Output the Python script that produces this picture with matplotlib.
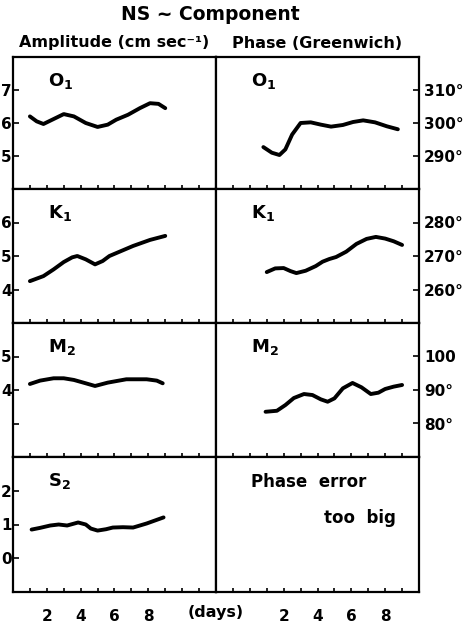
import matplotlib.pyplot as plt

plt.rcParams['font.family'] = 'DejaVu Sans'
plt.rcParams['font.weight'] = 'bold'

# amplitude curves (cm/sec) vs day
o1_amp_day = [1.0, 1.4, 1.8, 2.4, 3.0, 3.6, 4.3, 5.0, 5.6, 6.1, 6.8, 7.5, 8.1, 8.6, 9.0]
o1_amp = [6.2, 6.05, 5.97, 6.12, 6.27, 6.2, 6.0, 5.88, 5.95, 6.1, 6.25, 6.45, 6.6, 6.58, 6.45]
k1_amp_day = [1.0, 1.8, 2.4, 3.0, 3.5, 3.8, 4.3, 4.85, 5.3, 5.7, 6.4, 7.1, 8.1, 9.0]
k1_amp = [4.25, 4.4, 4.6, 4.82, 4.96, 5.0, 4.9, 4.75, 4.85, 5.0, 5.15, 5.3, 5.48, 5.6]
m2_amp_day = [1.0, 1.6, 2.4, 3.0, 3.6, 4.3, 4.85, 5.6, 6.7, 7.9, 8.5, 8.85]
m2_amp = [4.18, 4.28, 4.35, 4.35, 4.3, 4.2, 4.12, 4.22, 4.32, 4.32, 4.28, 4.2]
s2_amp_day = [1.1, 1.6, 2.2, 2.7, 3.2, 3.85, 4.3, 4.6, 5.0, 5.5, 5.9, 6.5, 7.1, 7.9, 8.4, 8.9]
s2_amp = [0.85, 0.9, 0.97, 1.0, 0.97, 1.06, 1.0, 0.88, 0.82, 0.86, 0.91, 0.92, 0.91, 1.03, 1.12, 1.21]

# phase curves (degrees, Greenwich) vs day
o1_ph_day = [0.8, 1.3, 1.75, 2.1, 2.5, 3.0, 3.6, 4.2, 4.8, 5.5, 6.1, 6.7, 7.4, 8.1, 8.75]
o1_ph = [292.7, 291.0, 290.3, 292.0, 296.5, 300.0, 300.2, 299.5, 298.9, 299.4, 300.3, 300.8, 300.2, 299.0, 298.1]
k1_ph_day = [1.0, 1.5, 2.0, 2.4, 2.75, 3.3, 3.9, 4.3, 4.7, 5.1, 5.7, 6.3, 6.9, 7.45, 8.0, 8.5, 9.0]
k1_ph = [265.2, 266.3, 266.4, 265.5, 264.9, 265.6, 267.0, 268.3, 269.1, 269.7, 271.3, 273.6, 275.1, 275.7, 275.2, 274.4, 273.3]
m2_ph_day = [0.93, 1.6, 2.1, 2.6, 3.2, 3.7, 4.2, 4.6, 5.0, 5.5, 6.07, 6.6, 7.15, 7.6, 8.0, 8.5, 9.0]
m2_ph = [83.5, 83.8, 85.5, 87.6, 88.8, 88.5, 87.2, 86.5, 87.5, 90.5, 92.1, 90.8, 88.8, 89.2, 90.3, 91.0, 91.5]

amp_curves = [(o1_amp_day, o1_amp), (k1_amp_day, k1_amp), (m2_amp_day, m2_amp), (s2_amp_day, s2_amp)]
ph_curves = [(o1_ph_day, o1_ph), (k1_ph_day, k1_ph), (m2_ph_day, m2_ph), None]

constituents = ['O$_1$', 'K$_1$', 'M$_2$', 'S$_2$']
amp_ylims = [(4, 8), (3, 7), (2, 6), (-1, 3)]
amp_ticks = [[5, 6, 7], [4, 5, 6], [3, 4, 5], [0, 1, 2]]
amp_ticklabels = [['5', '6', '7'], ['4', '5', '6'], ['', '4', '5'], ['0', '1', '2']]
ph_ylims = [(280, 320), (250, 290), (70, 110), None]
ph_ticks = [[290, 300, 310], [260, 270, 280], [80, 90, 100], None]
ph_ticklabels = [['290°', '300°', '310°'], ['260°', '270°', '280°'], ['80°', '90°', '100'], None]

day_ticks = [2, 4, 6, 8]

W, H = 471, 625
fig = plt.figure(figsize=(W / 100, H / 100), dpi=100)

x0, xm, x1 = 13, 216, 419
rows_y = [57, 189, 323, 457, 592]


def px_axes(left, top, right, bottom):
    return fig.add_axes([left / W, 1 - bottom / H, (right - left) / W, (bottom - top) / H])


def day_labels(ticks):
    return [str(t) if t in day_ticks else '' for t in ticks]


lw_spine = 1.6
for r in range(4):
    top, bot = rows_y[r], rows_y[r + 1]
    axl = px_axes(x0, top, xm, bot)
    axr = px_axes(xm, top, x1, bot)

    for ax in (axl, axr):
        for sp in ax.spines.values():
            sp.set_linewidth(lw_spine)
        ax.tick_params(axis='x', direction='in', length=3, width=1.2, top=False,
                       labelbottom=(r == 3), labelsize=11, pad=12)
        ax.tick_params(axis='y', direction='in', length=4, width=1.2, labelsize=11)

    # left: amplitude
    axl.set_xlim(0, 12)
    lticks = list(range(1, 12))
    axl.set_xticks(lticks)
    axl.set_xticklabels(day_labels(lticks), fontweight='bold')
    axl.set_ylim(*amp_ylims[r])
    axl.set_yticks(amp_ticks[r])
    axl.set_yticklabels(amp_ticklabels[r], fontweight='bold')
    axl.tick_params(axis='y', pad=1)
    xd, yd = amp_curves[r]
    axl.plot(xd, yd, color='black', lw=2.8, solid_capstyle='round', solid_joinstyle='round')
    axl.text(0.17, 0.82, constituents[r], transform=axl.transAxes, fontsize=13,
             fontweight='bold', ha='left', va='center')

    # right: phase
    axr.set_xlim(-2, 10)
    rticks = list(range(-1, 10))
    axr.set_xticks(rticks)
    axr.set_xticklabels(day_labels(rticks), fontweight='bold')
    axr.yaxis.tick_right()
    if ph_curves[r] is not None:
        axr.set_ylim(*ph_ylims[r])
        axr.set_yticks(ph_ticks[r])
        axr.set_yticklabels(ph_ticklabels[r], fontweight='bold')
        xd, yd = ph_curves[r]
        axr.plot(xd, yd, color='black', lw=2.8, solid_capstyle='round', solid_joinstyle='round')
        axr.text(0.17, 0.82, constituents[r], transform=axr.transAxes, fontsize=13,
                 fontweight='bold', ha='left', va='center')
    else:
        axr.set_yticks([])
        axr.text(0.17, 0.815, 'Phase  error', transform=axr.transAxes, fontsize=12,
                 fontweight='bold', ha='left', va='center')
        axr.text(0.53, 0.545, 'too  big', transform=axr.transAxes, fontsize=12,
                 fontweight='bold', ha='left', va='center')

fig.text(xm / W, 1 - 613 / H, '(days)', ha='center', va='center', fontsize=11.5, fontweight='bold')
fig.text(210 / W, 1 - 15 / H, 'NS ~ Component', ha='center', va='center', fontsize=13.5, fontweight='bold')
fig.text(114 / W, 1 - 43 / H, 'Amplitude (cm sec⁻¹)', ha='center', va='center', fontsize=11.5, fontweight='bold')
fig.text(317 / W, 1 - 43 / H, 'Phase (Greenwich)', ha='center', va='center', fontsize=11.5, fontweight='bold')

fig.savefig('out.png', dpi=100)
